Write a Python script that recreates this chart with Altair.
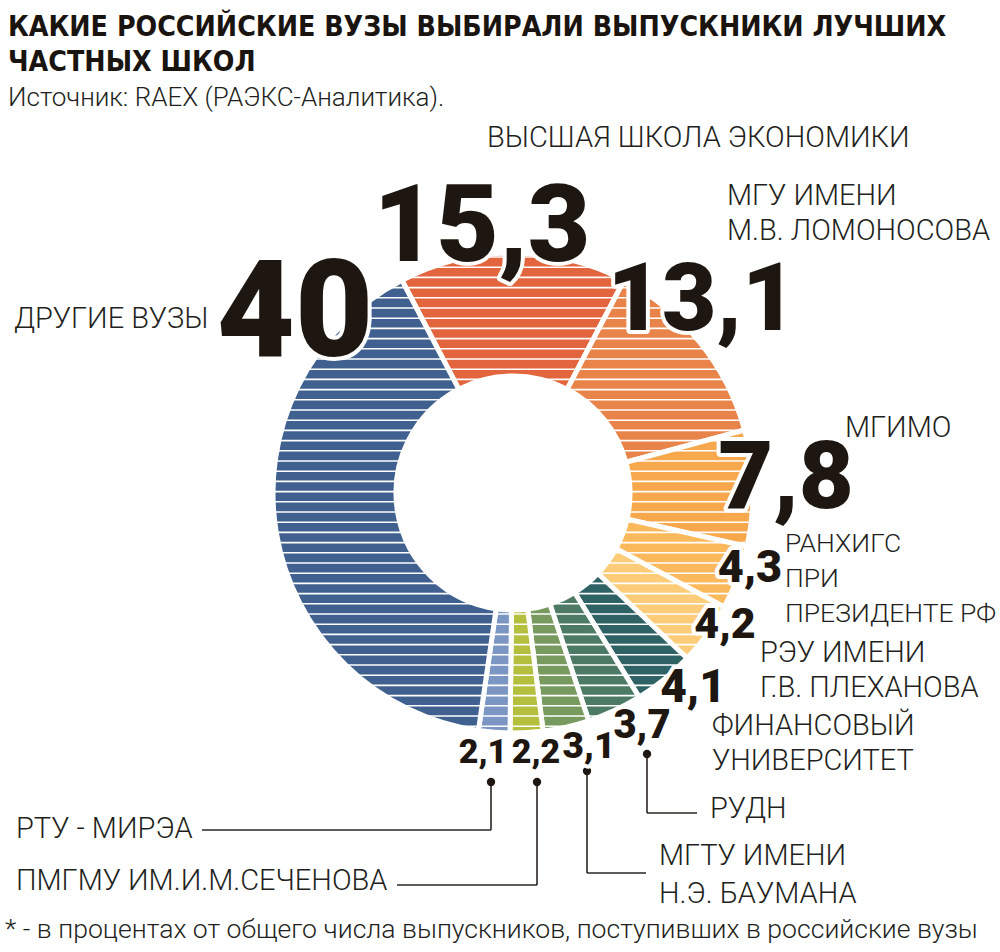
import math
import altair as alt
import pandas as pd

# ---------------- data ----------------
names = ["ВШЭ", "МГУ", "МГИМО", "РАНХиГС", "РЭУ", "Финансовый", "РУДН",
         "МГТУ", "ПМГМУ", "РТУ-МИРЭА", "Другие вузы"]
values = [15.3, 13.1, 7.8, 4.3, 4.2, 4.1, 3.7, 3.1, 2.2, 2.1, 40]
value_labels = ["15,3", "13,1", "7,8", "4,3", "4,2", "4,1", "3,7", "3,1", "2,2", "2,1", "40"]
colors = ["#e2653d", "#e8844a", "#f8a84c", "#fbb95c", "#fdcc78", "#2e6264",
          "#4d7a64", "#789a5e", "#b5bf3e", "#7c96c4", "#40608f"]

title_lines = ["КАКИЕ РОССИЙСКИЕ ВУЗЫ ВЫБИРАЛИ ВЫПУСКНИКИ ЛУЧШИХ", "ЧАСТНЫХ ШКОЛ"]
source_text = "Источник: RAEX (РАЭКС-Аналитика)."
footnote = "* - в процентах от общего числа выпускников, поступивших в российские вузы"

# ---------------- layout (annotation placement, pixels) ----------------
CX, CY = 513, 493
R_OUT, R_IN = 240, 117
total = sum(values)
start = -(values[0] / total) * math.pi  # first slice centred at 12 o'clock

label_rows = [  # text, x, baseline y, font size
    ("ВЫСШАЯ ШКОЛА ЭКОНОМИКИ", 487, 147, 29),
    ("МГУ ИМЕНИ", 727, 205, 29), ("М.В. ЛОМОНОСОВА", 727, 240, 29),
    ("ДРУГИЕ ВУЗЫ", 14, 328, 29),
    ("МГИМО", 845, 437, 29),
    ("РАНХИГС", 785, 552, 26.5), ("ПРИ", 785, 587, 26.5), ("ПРЕЗИДЕНТЕ РФ", 785, 622, 26.5),
    ("РЭУ ИМЕНИ", 760, 662, 29), ("Г.В. ПЛЕХАНОВА", 760, 697, 29),
    ("ФИНАНСОВЫЙ", 712, 735, 29), ("УНИВЕРСИТЕТ", 712, 770, 29),
    ("РУДН", 710, 818, 29),
    ("МГТУ ИМЕНИ", 659, 865, 29), ("Н.Э. БАУМАНА", 659, 903, 29),
    ("РТУ - МИРЭА", 16, 838, 29),
    ("ПМГМУ ИМ.И.М.СЕЧЕНОВА", 16, 890, 29),
]
# number placement: centre x, baseline y, font size (same order as values)
num_pos = [(482, 261, 108), (702, 330, 94), (786, 508, 95), (750, 582, 45),
           (725, 638, 43), (693, 702, 46), (642, 738, 40), (589, 758, 37),
           (536, 763, 34), (483, 763, 34), (295, 356, 135)]
dots = [(491, 782), (537, 782), (587, 771), (647, 754)]
leaders = [  # x, y, x2, y2
    (491, 782, 491, 830), (202, 830, 491, 830),
    (537, 782, 537, 885), (397, 885, 537, 885),
    (587, 771, 587, 873), (587, 873, 646, 873),
    (647, 754, 647, 813), (647, 813, 697, 813),
]

NUM_FONT = "Roboto"
LBL_FONT = "Roboto"
DARK = "#1e1610"

df = pd.DataFrame({"name": names, "value": values, "idx": list(range(len(names)))})

arcs = alt.Chart(df).mark_arc(
    innerRadius=R_IN, outerRadius=R_OUT, stroke="white", strokeWidth=5
).encode(
    theta=alt.Theta("value:Q", stack=True,
                    scale=alt.Scale(range=[start, start + 2 * math.pi])),
    color=alt.Color("name:N", scale=alt.Scale(domain=names, range=colors), legend=None),
    order=alt.Order("idx:Q"),
    x=alt.value(CX), y=alt.value(CY),
)

stripes = alt.Chart(alt.sequence(start=257, stop=745, step=10.2, as_="sy")).mark_rule(
    color="white", strokeWidth=1.6
).encode(
    y=alt.Y("sy:Q", scale=None),
    x=alt.value(CX - R_OUT - 5), x2=alt.value(CX + R_OUT + 10),
)

lead_df = pd.DataFrame(leaders, columns=["x", "y", "x2", "y2"])
lead = alt.Chart(lead_df).mark_rule(color="#2a2420", strokeWidth=1.6).encode(
    x=alt.X("x:Q", scale=None), y=alt.Y("y:Q", scale=None),
    x2="x2:Q", y2="y2:Q",
)
dot_df = pd.DataFrame(dots, columns=["x", "y"])
dot = alt.Chart(dot_df).mark_circle(size=70, color=DARK, opacity=1).encode(
    x=alt.X("x:Q", scale=None), y=alt.Y("y:Q", scale=None)
)

num_df = pd.DataFrame({
    "t": value_labels,
    "x": [p[0] for p in num_pos], "y": [p[1] for p in num_pos], "s": [p[2] for p in num_pos],
})
num_enc = dict(x=alt.X("x:Q", scale=None), y=alt.Y("y:Q", scale=None),
               size=alt.Size("s:Q", scale=None, legend=None), text="t:N")
num_halo = alt.Chart(num_df).mark_text(
    font=NUM_FONT, fontWeight=900, align="center", baseline="alphabetic",
    stroke="white", strokeWidth=8, color="white", strokeJoin="round"
).encode(**num_enc)
num_txt = alt.Chart(num_df).mark_text(
    font=NUM_FONT, fontWeight=900, align="center", baseline="alphabetic", color=DARK
).encode(**num_enc)

lbl_df = pd.DataFrame(label_rows, columns=["t", "x", "y", "s"])
lbl = alt.Chart(lbl_df).mark_text(
    font=LBL_FONT, fontWeight=300, align="left", baseline="alphabetic",
    color="#231f20"
).encode(x=alt.X("x:Q", scale=None), y=alt.Y("y:Q", scale=None), text="t:N",
         size=alt.Size("s:Q", scale=None, legend=None))

head_df = pd.DataFrame({"t": title_lines, "x": [8, 8], "y": [36, 71]})
head = alt.Chart(head_df).mark_text(
    font="DejaVu Sans Condensed", fontWeight="bold", fontSize=28.3, align="left",
    baseline="alphabetic", color="#1a1410"
).encode(x=alt.X("x:Q", scale=None), y=alt.Y("y:Q", scale=None), text="t:N")

src_df = pd.DataFrame({"t": [source_text, footnote], "x": [8, 5], "y": [106, 938],
                       "s": [26, 26.6]})
src = alt.Chart(src_df).mark_text(
    font=LBL_FONT, fontWeight=300, align="left", baseline="alphabetic", color="#231f20"
).encode(x=alt.X("x:Q", scale=None), y=alt.Y("y:Q", scale=None), text="t:N",
         size=alt.Size("s:Q", scale=None, legend=None))

chart = alt.layer(arcs, stripes, lead, dot, num_halo, num_txt, lbl, head, src).properties(
    width=1000, height=952, padding=0,
    autosize=alt.AutoSizeParams(type="none"),
    background="white",
).configure_view(stroke=None)

chart.save("out.html", embed_options={"renderer": "svg", "actions": False})
